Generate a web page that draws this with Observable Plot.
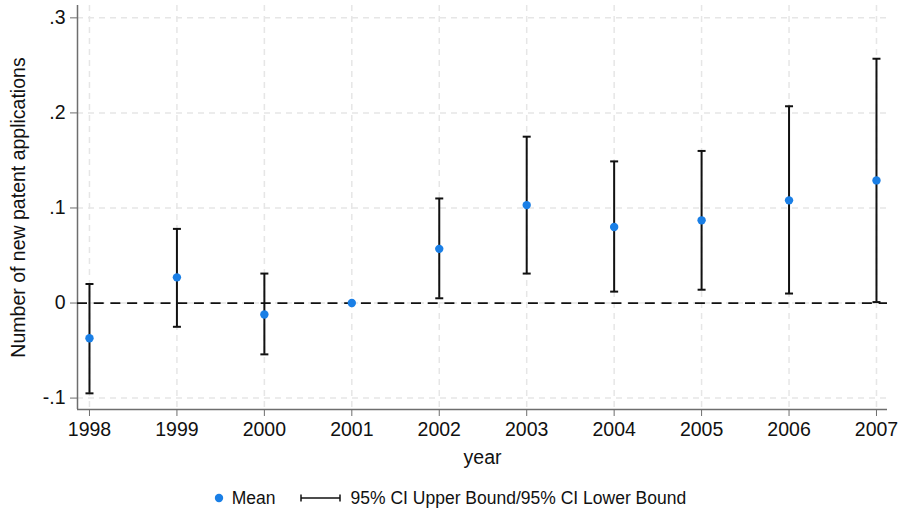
<!DOCTYPE html>
<html>
<head>
<meta charset="utf-8">
<script src="https://cdn.jsdelivr.net/npm/d3@7"></script>
<script src="https://cdn.jsdelivr.net/npm/@observablehq/plot@0.6"></script>
<style>
  body { margin: 0; background: #fff; font-family: "Liberation Sans", Arial, sans-serif; }
  #legend { height: 32px; padding-top: 4px; display: flex; align-items: center; justify-content: center; font-size: 17.5px; color: #111; }
  #legend .item { display: flex; align-items: center; }
</style>
</head>
<body>
<div id="chart"></div>
<div id="legend"></div>
<script>
const years = [1998, 1999, 2000, 2001, 2002, 2003, 2004, 2005, 2006, 2007];
const meanValues = [-0.037, 0.027, -0.012, 0, 0.057, 0.103, 0.080, 0.087, 0.108, 0.129];
const upperValues = [0.020, 0.078, 0.031, null, 0.110, 0.175, 0.149, 0.160, 0.207, 0.257];
const lowerValues = [-0.095, -0.025, -0.054, null, 0.005, 0.031, 0.012, 0.014, 0.010, 0.001];
const yTicks = [-0.1, 0, 0.1, 0.2, 0.3];
const yTickLabels = ["-.1", "0", ".1", ".2", ".3"];
const xDomain = [1997.863, 2007.126];
const yDomain = [-0.112, 0.313];

const rows = years.map((year, i) => ({year, mean: meanValues[i], upper: upperValues[i], lower: lowerValues[i]}));
const ciRows = rows.filter(d => d.upper != null && d.lower != null);

const capSymbol = {
  draw(context, size) {
    const w = Math.sqrt(size / Math.PI);
    context.moveTo(-w, 0);
    context.lineTo(w, 0);
  }
};

const blue = "#1a7fe6";
const gridColor = "#e6e6e6";
const axisColor = "#6e6e6e";

const chart = Plot.plot({
  width: 899,
  height: 478,
  marginLeft: 77,
  marginRight: 12,
  marginTop: 5,
  marginBottom: 69,
  style: { fontFamily: "Liberation Sans, Arial, sans-serif", fontSize: "19.5px", color: "#111", background: "#fff" },
  x: { domain: xDomain, ticks: years, tickFormat: d => String(d) },
  y: { domain: yDomain, ticks: yTicks, tickFormat: d => yTickLabels[yTicks.indexOf(d)] },
  marks: [
    Plot.gridX(years, { stroke: gridColor, strokeOpacity: 1, strokeWidth: 1.5, strokeDasharray: "6,5" }),
    Plot.gridY(yTicks, { stroke: gridColor, strokeOpacity: 1, strokeWidth: 1.5, strokeDasharray: "6,5" }),
    Plot.ruleX([xDomain[0]], { stroke: axisColor, strokeWidth: 1.5 }),
    Plot.ruleY([yDomain[0]], { stroke: axisColor, strokeWidth: 1.5 }),
    Plot.axisX({ ticks: years, tickFormat: d => String(d), tickSize: 7, tickPadding: 6, stroke: axisColor, fontSize: 19.5, label: "year", labelAnchor: "center", labelArrow: "none", labelOffset: 54 }),
    Plot.axisY({ ticks: yTicks, tickFormat: d => yTickLabels[yTicks.indexOf(d)], tickSize: 7, tickPadding: 5, stroke: axisColor, fontSize: 19.5, label: "Number of new patent applications", labelAnchor: "center", labelArrow: "none", labelOffset: 66 }),
    Plot.ruleY([0], { stroke: "#111", strokeWidth: 1.8, strokeDasharray: "10,6.7" }),
    Plot.ruleX(ciRows, { x: "year", y1: "lower", y2: "upper", stroke: "#111", strokeWidth: 2 }),
    Plot.dot(ciRows, { x: "year", y: "upper", symbol: capSymbol, r: 4, stroke: "#111", strokeWidth: 2, fill: "none" }),
    Plot.dot(ciRows, { x: "year", y: "lower", symbol: capSymbol, r: 4, stroke: "#111", strokeWidth: 2, fill: "none" }),
    Plot.dot(rows, { x: "year", y: "mean", r: 4.2, fill: blue, stroke: "none" })
  ]
});
document.getElementById("chart").appendChild(chart);

const legend = document.getElementById("legend");
legend.innerHTML = `
  <div class="item"><svg width="12" height="12" style="margin-right:7px"><circle cx="6" cy="6" r="4.2" fill="${blue}"/></svg><span>Mean</span></div>
  <div class="item" style="margin-left:24px"><svg width="42" height="12" style="margin-right:9px"><line x1="1" y1="6" x2="40" y2="6" stroke="#111" stroke-width="1.5"/><line x1="1" y1="2.5" x2="1" y2="9.5" stroke="#111" stroke-width="1.5"/><line x1="40" y1="2.5" x2="40" y2="9.5" stroke="#111" stroke-width="1.5"/></svg><span>95% CI Upper Bound/95% CI Lower Bound</span></div>
`;
</script>
</body>
</html>
